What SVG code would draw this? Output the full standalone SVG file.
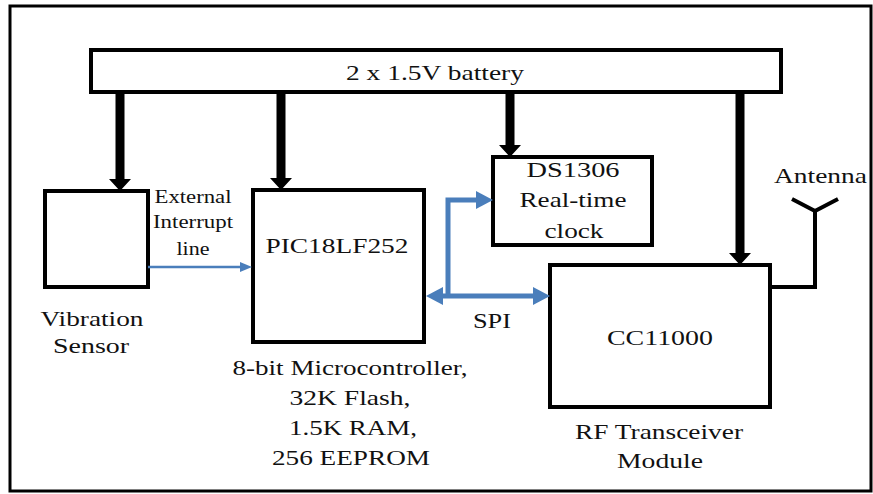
<svg xmlns="http://www.w3.org/2000/svg" width="873" height="494" viewBox="0 0 873 494">
<style>
  .box{fill:#fff;stroke:#000;stroke-width:4}
  .t{font-family:"Liberation Serif","Times New Roman",serif;font-size:22px;fill:#111;text-anchor:middle}
  .s{font-size:19px}
  .pw{fill:#000}
  .blue{fill:none;stroke:#4A7EBB;stroke-width:5}
  .bh{fill:#4A7EBB}
</style>
<rect x="0" y="0" width="873" height="494" fill="#fff"/>
<rect x="10" y="6" width="861" height="485" fill="none" stroke="#000" stroke-width="3"/>

<g id="battery">
  <rect class="box" x="91" y="50" width="690" height="42"/>
  <text class="t" x="435" y="80" textLength="178" lengthAdjust="spacingAndGlyphs">2 x 1.5V battery</text>
</g>

<g id="vibration-sensor">
  <rect class="box" x="45" y="191" width="103" height="96"/>
  <text class="t" x="92" y="326" textLength="103" lengthAdjust="spacingAndGlyphs">Vibration</text>
  <text class="t" x="91" y="353" textLength="76" lengthAdjust="spacingAndGlyphs">Sensor</text>
</g>

<g id="pic">
  <rect class="box" x="253" y="190" width="171" height="152"/>
  <text class="t" x="337" y="253" textLength="143" lengthAdjust="spacingAndGlyphs">PIC18LF252</text>
  <text class="t" x="350" y="375" textLength="235" lengthAdjust="spacingAndGlyphs">8-bit Microcontroller,</text>
  <text class="t" x="350" y="405" textLength="121" lengthAdjust="spacingAndGlyphs">32K Flash,</text>
  <text class="t" x="353" y="435" textLength="128" lengthAdjust="spacingAndGlyphs">1.5K RAM,</text>
  <text class="t" x="351" y="465" textLength="158" lengthAdjust="spacingAndGlyphs">256 EEPROM</text>
</g>

<g id="ds1306">
  <rect class="box" x="493" y="157" width="159" height="88"/>
  <text class="t" x="573" y="177" textLength="93" lengthAdjust="spacingAndGlyphs">DS1306</text>
  <text class="t" x="573" y="207" textLength="107" lengthAdjust="spacingAndGlyphs">Real-time</text>
  <text class="t" x="574" y="238" textLength="59" lengthAdjust="spacingAndGlyphs">clock</text>
</g>

<g id="cc11000">
  <rect class="box" x="550" y="265" width="220" height="142"/>
  <text class="t" x="660" y="345" textLength="106" lengthAdjust="spacingAndGlyphs">CC11000</text>
  <text class="t" x="659" y="439" textLength="168" lengthAdjust="spacingAndGlyphs">RF Transceiver</text>
  <text class="t" x="660" y="468" textLength="86" lengthAdjust="spacingAndGlyphs">Module</text>
</g>

<g id="antenna">
  <polyline points="770,287 815,287 815,210" fill="none" stroke="#000" stroke-width="4"/>
  <polyline points="792,199 815,211 838,199" fill="none" stroke="#000" stroke-width="4"/>
  <text class="t" x="774" y="183" style="text-anchor:start" textLength="93" lengthAdjust="spacingAndGlyphs">Antenna</text>
</g>

<g id="connectors">
  <polygon class="pw" points="115.5,92 124.5,92 124.5,179 131,179 120,191 109,179 115.5,179"/>
  <polygon class="pw" points="276.5,92 285.5,92 285.5,178 292,178 281,190 270,178 276.5,178"/>
  <polygon class="pw" points="505.5,92 514.5,92 514.5,145 521,145 510,157 499,145 505.5,145"/>
  <polygon class="pw" points="735.5,92 744.5,92 744.5,253 751,253 740,265 729,253 735.5,253"/>

  <line x1="148" y1="267" x2="242" y2="267" stroke="#4A7EBB" stroke-width="2.5"/>
  <polygon class="bh" points="240,262 252,267 240,272"/>

  <path class="blue" d="M441 296 H535"/>
  <polygon class="bh" points="443,287 426,296 443,305"/>
  <polygon class="bh" points="533,287 550,296 533,305"/>
  <path class="blue" d="M448 296 V200 H478"/>
  <polygon class="bh" points="476,191 493,200 476,209"/>
</g>

<g id="labels">
  <text class="t s" x="193" y="203" textLength="77" lengthAdjust="spacingAndGlyphs">External</text>
  <text class="t s" x="193" y="228" textLength="80" lengthAdjust="spacingAndGlyphs">Interrupt</text>
  <text class="t s" x="193" y="255" textLength="33" lengthAdjust="spacingAndGlyphs">line</text>
  <text class="t" x="473" y="328" style="text-anchor:start" textLength="38" lengthAdjust="spacingAndGlyphs">SPI</text>
</g>
</svg>
